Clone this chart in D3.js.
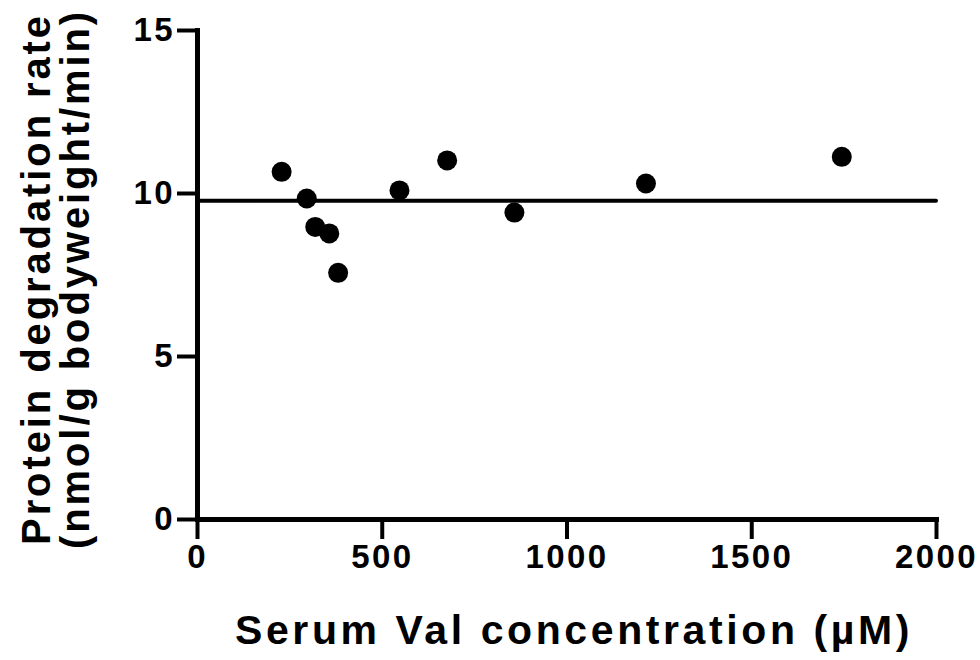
<!DOCTYPE html>
<html>
<head>
<meta charset="utf-8">
<script src="https://cdn.jsdelivr.net/npm/d3@7"></script>
<style>
  html, body { margin: 0; padding: 0; background: #fff; }
  svg text { font-family: "Liberation Sans", Arial, sans-serif; font-weight: bold; fill: #000; }
</style>
</head>
<body>
<svg id="chart" width="980" height="660"></svg>
<script>
// ============ Data ============
const serumVal = [229, 297, 320, 358, 382, 548, 677, 859, 1215, 1745];
const degradationRate = [10.65, 9.83, 8.96, 8.76, 7.55, 10.08, 11.0, 9.40, 10.29, 11.11];
const fitLevel = 9.76;
const xTicks = [0, 500, 1000, 1500, 2000];
const yTicks = [0, 5, 10, 15];
const xTitle = "Serum Val concentration (\u00B5M)";
const yTitleLines = ["Protein degradation rate", "(nmol/g bodyweight/min)"];

// ============ Layout ============
const WIDTH = 980, HEIGHT = 660;
const margin = { top: 30, right: 44, bottom: 141, left: 197 };
const innerW = WIDTH - margin.left - margin.right;
const innerH = HEIGHT - margin.top - margin.bottom;

const svg = d3.select("#chart");
const g = svg.append("g").attr("transform", `translate(${margin.left},${margin.top})`);

const x = d3.scaleLinear().domain([0, 2000]).range([0, innerW]);
const y = d3.scaleLinear().domain([0, 15]).range([innerH, 0]);

// ---- Axes ----
const xAxis = g.append("g")
  .attr("transform", `translate(0,${innerH})`)
  .call(d3.axisBottom(x).tickValues(xTicks).tickFormat(d3.format("d")).tickSize(20).tickSizeOuter(0).tickPadding(6));

const yAxis = g.append("g")
  .call(d3.axisLeft(y).tickValues(yTicks).tickFormat(d3.format("d")).tickSize(20).tickSizeOuter(0).tickPadding(2));

[xAxis, yAxis].forEach(ax => {
  ax.select(".domain").attr("stroke", "#000").attr("stroke-width", 5).attr("stroke-linecap", "square");
  ax.selectAll(".tick line").attr("stroke", "#000").attr("stroke-width", 4);
  ax.selectAll(".tick text")
    .attr("font-size", 33)
    .attr("font-family", null)
    .style("letter-spacing", "2.4px");
});

// ---- Mean line ----
g.append("line")
  .attr("x1", x(0)).attr("x2", x(2000))
  .attr("y1", y(fitLevel)).attr("y2", y(fitLevel))
  .attr("stroke", "#000").attr("stroke-width", 4).attr("stroke-linecap", "round");

// ---- Points ----
g.selectAll("circle.pt")
  .data(serumVal.map((v, i) => ({ x: v, y: degradationRate[i] })))
  .enter()
  .append("circle")
  .attr("class", "pt")
  .attr("cx", d => x(d.x))
  .attr("cy", d => y(d.y))
  .attr("r", 10)
  .attr("fill", "#000");

// ---- Titles ----
svg.append("text")
  .attr("x", 574)
  .attr("y", 644)
  .attr("text-anchor", "middle")
  .attr("font-size", 41)
  .style("letter-spacing", "3.6px")
  .text(xTitle);

const yTitle = svg.append("text")
  .attr("transform", `translate(0,279) rotate(-90)`)
  .attr("text-anchor", "middle")
  .attr("font-size", 40)
  .style("letter-spacing", "2.9px");
yTitle.selectAll("tspan")
  .data(yTitleLines)
  .enter()
  .append("tspan")
  .attr("x", 0)
  .attr("y", (d, i) => 50 + i * 39)
  .text(d => d);
</script>
</body>
</html>
